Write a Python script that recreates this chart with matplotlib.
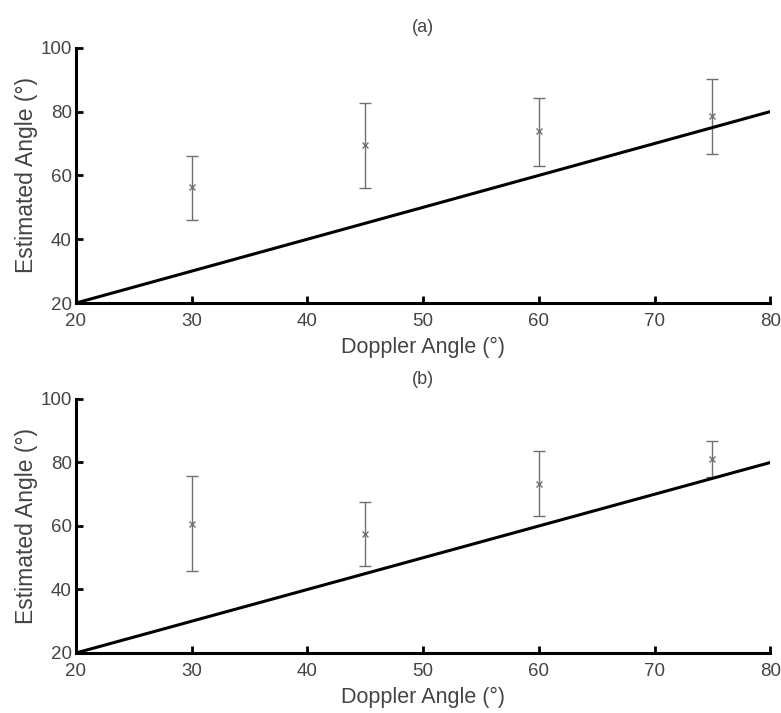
#!/usr/bin/env python3

import matplotlib
matplotlib.use('Agg')
import matplotlib.pyplot as plt

plt.rcParams['font.family'] = ['Liberation Sans', 'DejaVu Sans']

DOPPLER = [30, 45, 60, 75]

# panel (a): mean estimate with lower/upper error extents
EST_A = [56.5, 69.6, 74.0, 78.7]
LOW_A = [46.0, 56.0, 62.8, 66.8]
HIGH_A = [66.2, 82.7, 84.4, 90.3]

# panel (b)
EST_B = [60.5, 57.4, 73.2, 81.0]
LOW_B = [45.8, 47.3, 63.2, 75.5]
HIGH_B = [75.7, 67.5, 83.5, 86.9]

IDEAL = [20, 80]
TICKS = [20, 30, 40, 50, 60, 70, 80]
YTICKS = [20, 40, 60, 80, 100]

TEXT = '#444444'


def draw_panel(ax, title, est, low, high):
    yerr = [[e - lo for e, lo in zip(est, low)],
            [hi - e for e, hi in zip(est, high)]]
    ax.plot(IDEAL, IDEAL, color='black', lw=2.2, zorder=3)
    ax.errorbar(DOPPLER, est, yerr=yerr, fmt='x', color='#707070',
                ms=5, mew=1.0, elinewidth=1.0, capsize=4, capthick=1.0,
                zorder=2)
    ax.set_xlim(20, 80)
    ax.set_ylim(20, 100)
    ax.set_xticks(TICKS)
    ax.set_yticks(YTICKS)
    for side in ('top', 'right'):
        ax.spines[side].set_visible(False)
    for side in ('left', 'bottom'):
        ax.spines[side].set_linewidth(2.2)
    ax.tick_params(direction='in', length=5, width=2,
                   labelsize=13.5, labelcolor=TEXT)
    ax.tick_params(axis='x', pad=7)
    ax.tick_params(axis='y', pad=3)
    ax.set_title(title, fontsize=13, color=TEXT, pad=11)
    ax.set_xlabel('Doppler Angle (°)', fontsize=15.5, color=TEXT, labelpad=5)
    ax.set_ylabel('Estimated Angle (°)', fontsize=16.5, color=TEXT, labelpad=2)


fig = plt.figure(figsize=(7.81, 7.13), dpi=100)
ax_a = fig.add_axes([0.0973, 0.575, 0.889, 0.358])
ax_b = fig.add_axes([0.0973, 0.0842, 0.889, 0.3562])

draw_panel(ax_a, '(a)', EST_A, LOW_A, HIGH_A)
draw_panel(ax_b, '(b)', EST_B, LOW_B, HIGH_B)

fig.savefig('out.png', dpi=100)
